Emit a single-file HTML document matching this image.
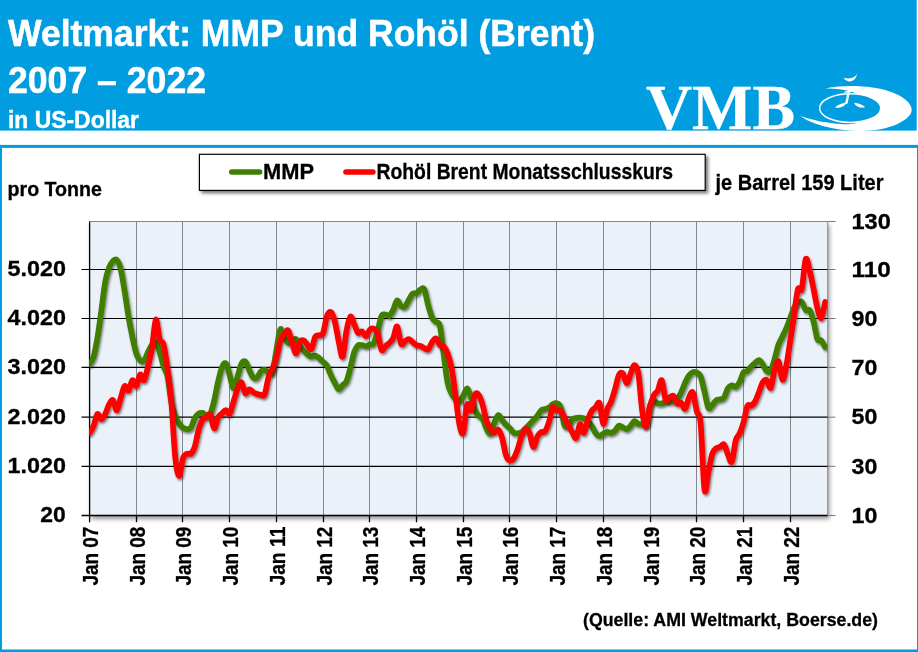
<!DOCTYPE html>
<html><head><meta charset="utf-8"><title>Weltmarkt: MMP und Rohöl (Brent)</title>
<style>html,body{margin:0;padding:0;background:#fff;width:918px;height:652px;overflow:hidden}</style></head>
<body>
<svg width="918" height="652" viewBox="0 0 918 652" style="display:block;position:absolute;left:0;top:0;will-change:transform">
<defs>
<filter id="ls" x="-5%" y="-5%" width="110%" height="115%"><feDropShadow dx="1.2" dy="1.8" stdDeviation="1.3" flood-color="#000" flood-opacity="0.5"/></filter>
<filter id="ps" x="-5%" y="-5%" width="112%" height="112%"><feDropShadow dx="1.7" dy="3.4" stdDeviation="2.2" flood-color="#000" flood-opacity="0.42"/></filter>
<filter id="lg" x="-5%" y="-20%" width="112%" height="150%"><feDropShadow dx="2.5" dy="2.5" stdDeviation="1.8" flood-color="#000" flood-opacity="0.5"/></filter>
<linearGradient id="pg" x1="0" y1="0" x2="1" y2="1"><stop offset="0" stop-color="#ebf2fa"/><stop offset="1" stop-color="#e6eef8"/></linearGradient>
<clipPath id="pc"><rect x="89.1" y="221.5" width="738.6" height="294.0"/></clipPath>
</defs>
<rect width="918" height="652" fill="#fff"/>
<rect x="0" y="0" width="916.7" height="130.6" fill="#009ee0"/>
<rect x="0.5" y="146.4" width="918" height="504.6" fill="none" stroke="#009ee0" stroke-width="3"/>
<text id="t1" x="8" y="45.9" font-family="Liberation Sans, sans-serif" font-weight="bold" font-size="36" fill="#fff" stroke="#fff" stroke-width="0.5" textLength="587" lengthAdjust="spacingAndGlyphs">Weltmarkt: MMP und Rohöl (Brent)</text>
<text id="t2" x="8" y="92.6" font-family="Liberation Sans, sans-serif" font-weight="bold" font-size="36" fill="#fff" stroke="#fff" stroke-width="0.5" textLength="198" lengthAdjust="spacingAndGlyphs">2007 – 2022</text>
<text id="t3" x="8" y="128.4" font-family="Liberation Sans, sans-serif" font-weight="bold" font-size="23.8" fill="#fff" stroke="#fff" stroke-width="0.4" textLength="131" lengthAdjust="spacingAndGlyphs">in US-Dollar</text>
<text id="vmb" x="646" y="128.9" font-family="Liberation Serif, serif" font-weight="bold" font-size="63.8" fill="#fff" stroke="#fff" stroke-width="0.3" textLength="149" lengthAdjust="spacingAndGlyphs">VMB</text>
<g transform="translate(795,65) scale(0.134)" fill="#fff">
<path d="M38 378C120 440 280 485 470 492C640 497 800 450 860 370C900 310 830 235 700 195C600 162 400 140 225 176C300 176 390 184 470 218L480 330L450 436C400 446 320 444 230 428C150 412 90 398 38 378Z"/>
<ellipse cx="412" cy="322" rx="228" ry="107" fill="#009ee0" stroke="#fff" stroke-width="11"/>
<path d="M402 188C398 220 392 250 384 282" fill="none" stroke="#fff" stroke-width="18" stroke-linecap="round"/>
<path d="M372 203L418 196" fill="none" stroke="#fff" stroke-width="10" stroke-linecap="round"/>
<path d="M386 278C360 284 318 294 298 318C332 324 372 312 386 278Z"/>
<path d="M440 281C470 283 506 294 524 316C490 323 454 311 440 281Z"/>
<path d="M364 96C376 135 458 137 462 62C454 95 412 109 364 96Z"/>
</g>

<rect x="89.6" y="221.5" width="738.1" height="294.0" fill="#eaf1f9" filter="url(#ps)"/>
<line x1="136.5" y1="221.5" x2="136.5" y2="515.5" stroke="#84888e" stroke-width="1"/>
<line x1="182.5" y1="221.5" x2="182.5" y2="515.5" stroke="#84888e" stroke-width="1"/>
<line x1="229.5" y1="221.5" x2="229.5" y2="515.5" stroke="#84888e" stroke-width="1"/>
<line x1="276.5" y1="221.5" x2="276.5" y2="515.5" stroke="#84888e" stroke-width="1"/>
<line x1="323.5" y1="221.5" x2="323.5" y2="515.5" stroke="#84888e" stroke-width="1"/>
<line x1="369.5" y1="221.5" x2="369.5" y2="515.5" stroke="#84888e" stroke-width="1"/>
<line x1="416.5" y1="221.5" x2="416.5" y2="515.5" stroke="#84888e" stroke-width="1"/>
<line x1="463.5" y1="221.5" x2="463.5" y2="515.5" stroke="#84888e" stroke-width="1"/>
<line x1="509.5" y1="221.5" x2="509.5" y2="515.5" stroke="#84888e" stroke-width="1"/>
<line x1="556.5" y1="221.5" x2="556.5" y2="515.5" stroke="#84888e" stroke-width="1"/>
<line x1="603.5" y1="221.5" x2="603.5" y2="515.5" stroke="#84888e" stroke-width="1"/>
<line x1="650.5" y1="221.5" x2="650.5" y2="515.5" stroke="#84888e" stroke-width="1"/>
<line x1="696.5" y1="221.5" x2="696.5" y2="515.5" stroke="#84888e" stroke-width="1"/>
<line x1="743.5" y1="221.5" x2="743.5" y2="515.5" stroke="#84888e" stroke-width="1"/>
<line x1="790.5" y1="221.5" x2="790.5" y2="515.5" stroke="#84888e" stroke-width="1"/>
<path d="M89.6 221.5 H827.7 V515.5" fill="none" stroke="#84888e" stroke-width="1"/>
<line x1="81.5" y1="269.5" x2="827.7" y2="269.5" stroke="#000" stroke-width="1.2"/>
<line x1="827.7" y1="269.5" x2="835.5" y2="269.5" stroke="#7a7a7a" stroke-width="1"/>
<line x1="81.5" y1="318.5" x2="827.7" y2="318.5" stroke="#000" stroke-width="1.2"/>
<line x1="827.7" y1="318.5" x2="835.5" y2="318.5" stroke="#7a7a7a" stroke-width="1"/>
<line x1="81.5" y1="367.4" x2="827.7" y2="367.4" stroke="#000" stroke-width="1.2"/>
<line x1="827.7" y1="367.4" x2="835.5" y2="367.4" stroke="#7a7a7a" stroke-width="1"/>
<line x1="81.5" y1="417.2" x2="827.7" y2="417.2" stroke="#000" stroke-width="1.2"/>
<line x1="827.7" y1="417.2" x2="835.5" y2="417.2" stroke="#7a7a7a" stroke-width="1"/>
<line x1="81.5" y1="466.3" x2="827.7" y2="466.3" stroke="#000" stroke-width="1.2"/>
<line x1="827.7" y1="466.3" x2="835.5" y2="466.3" stroke="#7a7a7a" stroke-width="1"/>
<line x1="827.7" y1="221.5" x2="835.5" y2="221.5" stroke="#7a7a7a" stroke-width="1"/>
<line x1="89.6" y1="221.5" x2="89.6" y2="522.2" stroke="#000" stroke-width="1.3"/>
<line x1="81.5" y1="515.5" x2="827.7" y2="515.5" stroke="#000" stroke-width="1.4"/>
<line x1="827.7" y1="515.5" x2="835.5" y2="515.5" stroke="#7a7a7a" stroke-width="1"/>
<line x1="136.5" y1="515.5" x2="136.5" y2="522.2" stroke="#000" stroke-width="1.3"/>
<line x1="182.5" y1="515.5" x2="182.5" y2="522.2" stroke="#000" stroke-width="1.3"/>
<line x1="229.5" y1="515.5" x2="229.5" y2="522.2" stroke="#000" stroke-width="1.3"/>
<line x1="276.5" y1="515.5" x2="276.5" y2="522.2" stroke="#000" stroke-width="1.3"/>
<line x1="323.5" y1="515.5" x2="323.5" y2="522.2" stroke="#000" stroke-width="1.3"/>
<line x1="369.5" y1="515.5" x2="369.5" y2="522.2" stroke="#000" stroke-width="1.3"/>
<line x1="416.5" y1="515.5" x2="416.5" y2="522.2" stroke="#000" stroke-width="1.3"/>
<line x1="463.5" y1="515.5" x2="463.5" y2="522.2" stroke="#000" stroke-width="1.3"/>
<line x1="509.5" y1="515.5" x2="509.5" y2="522.2" stroke="#000" stroke-width="1.3"/>
<line x1="556.5" y1="515.5" x2="556.5" y2="522.2" stroke="#000" stroke-width="1.3"/>
<line x1="603.5" y1="515.5" x2="603.5" y2="522.2" stroke="#000" stroke-width="1.3"/>
<line x1="650.5" y1="515.5" x2="650.5" y2="522.2" stroke="#000" stroke-width="1.3"/>
<line x1="696.5" y1="515.5" x2="696.5" y2="522.2" stroke="#000" stroke-width="1.3"/>
<line x1="743.5" y1="515.5" x2="743.5" y2="522.2" stroke="#000" stroke-width="1.3"/>
<line x1="790.5" y1="515.5" x2="790.5" y2="522.2" stroke="#000" stroke-width="1.3"/>
<g clip-path="url(#pc)"><g filter="url(#ls)">
<path d="M89.6 364.0C90.2 362.8 92.2 361.3 93.5 357.0C94.8 352.7 96.1 345.7 97.4 338.0C98.7 330.3 100.0 320.3 101.3 311.0C102.6 301.7 103.9 289.2 105.2 282.0C106.5 274.8 107.8 271.0 109.1 267.5C110.4 264.0 111.7 262.2 113.0 261.0C114.2 259.8 115.5 258.7 116.8 260.0C118.1 261.3 119.4 263.8 120.7 269.0C122.0 274.2 123.3 283.1 124.6 291.0C125.9 298.9 127.2 308.8 128.5 316.5C129.8 324.2 131.1 330.8 132.4 337.0C133.7 343.2 135.0 349.6 136.3 353.5C137.6 357.4 138.9 359.3 140.2 360.5C141.5 361.7 142.8 361.9 144.1 360.5C145.4 359.1 146.7 354.6 148.0 352.0C149.3 349.4 150.6 346.7 151.9 345.0C153.2 343.3 154.5 340.8 155.8 342.0C157.1 343.2 158.4 348.0 159.7 352.0C161.0 356.0 162.3 362.0 163.5 366.0C164.8 370.0 166.1 370.0 167.4 376.0C168.7 382.0 170.0 395.3 171.3 402.0C172.6 408.7 173.9 412.4 175.2 416.0C176.5 419.6 177.8 421.5 179.1 423.5C180.4 425.5 181.7 427.0 183.0 427.9C184.3 428.8 185.6 429.1 186.9 429.1C188.2 429.1 189.5 429.7 190.8 427.9C192.1 426.1 193.4 420.8 194.7 418.4C196.0 416.0 197.3 414.4 198.6 413.5C199.9 412.6 201.2 412.6 202.5 412.9C203.8 413.2 205.1 415.1 206.4 415.3C207.7 415.5 209.0 416.4 210.3 414.0C211.5 411.6 212.8 406.3 214.1 401.0C215.4 395.7 216.7 387.6 218.0 382.0C219.3 376.4 220.6 370.6 221.9 367.5C223.2 364.4 224.5 362.2 225.8 363.5C227.1 364.8 228.4 371.2 229.7 375.3C231.0 379.4 232.3 388.1 233.6 388.3C234.9 388.6 236.2 380.9 237.5 376.8C238.8 372.7 240.1 366.4 241.4 363.8C242.7 361.2 244.0 360.5 245.3 361.5C246.6 362.5 247.9 367.2 249.2 369.9C250.5 372.6 251.8 376.3 253.1 377.6C254.4 378.9 255.7 378.6 257.0 377.6C258.3 376.6 259.6 372.7 260.8 371.4C262.1 370.1 263.4 369.8 264.7 369.9C266.0 370.0 267.3 371.8 268.6 372.2C269.9 372.6 271.2 375.7 272.5 372.0C273.8 368.3 275.1 357.1 276.4 350.0C277.7 342.9 279.0 331.6 280.3 329.4C281.6 327.2 282.9 334.4 284.2 336.7C285.5 338.9 286.8 342.1 288.1 342.9C289.4 343.7 290.7 341.9 292.0 341.3C293.3 340.7 294.6 338.2 295.9 339.0C297.2 339.8 298.5 344.1 299.8 346.0C301.1 347.9 302.4 349.2 303.7 350.6C305.0 352.0 306.3 353.4 307.6 354.4C308.8 355.4 310.1 356.5 311.4 356.7C312.7 356.9 314.0 355.2 315.3 355.5C316.6 355.8 317.9 357.1 319.2 358.2C320.5 359.3 321.8 360.7 323.1 362.0C324.4 363.3 325.7 363.7 327.0 365.9C328.3 368.1 329.6 372.3 330.9 375.1C332.2 377.9 333.5 380.5 334.8 382.9C336.1 385.3 337.4 389.0 338.7 389.4C340.0 389.8 341.3 386.6 342.6 385.2C343.9 383.8 345.2 384.0 346.5 381.1C347.8 378.2 349.1 372.5 350.4 367.6C351.7 362.7 353.0 355.5 354.3 351.8C355.6 348.1 356.9 346.4 358.1 345.3C359.4 344.2 360.7 345.1 362.0 345.2C363.3 345.3 364.6 346.3 365.9 346.2C367.2 346.1 368.5 344.9 369.8 344.4C371.1 343.9 372.4 345.5 373.7 343.3C375.0 341.1 376.3 335.9 377.6 331.3C378.9 326.8 380.2 318.8 381.5 316.0C382.8 313.2 384.1 314.6 385.4 314.5C386.7 314.4 388.0 316.5 389.3 315.7C390.6 314.9 391.9 312.4 393.2 309.9C394.5 307.3 395.8 301.0 397.1 300.4C398.4 299.8 399.7 305.0 401.0 306.0C402.3 307.0 403.6 307.5 404.9 306.5C406.1 305.5 407.4 302.0 408.7 299.9C410.0 297.8 411.3 294.9 412.6 293.8C413.9 292.7 415.2 294.0 416.5 293.3C417.8 292.6 419.1 290.3 420.4 289.6C421.7 288.9 423.0 286.6 424.3 289.2C425.6 291.8 426.9 300.6 428.2 305.3C429.5 310.0 430.8 314.7 432.1 317.5C433.4 320.3 434.7 320.7 436.0 322.1C437.3 323.5 438.6 320.5 439.9 326.0C441.2 331.5 442.5 345.5 443.8 355.0C445.1 364.5 446.4 376.6 447.7 383.0C449.0 389.4 450.3 391.0 451.6 393.7C452.9 396.4 454.2 397.8 455.4 399.1C456.7 400.4 458.0 401.9 459.3 401.4C460.6 400.9 461.9 398.2 463.2 396.0C464.5 393.8 465.8 388.1 467.1 388.3C468.4 388.6 469.7 393.9 471.0 397.5C472.3 401.1 473.6 406.7 474.9 409.8C476.2 412.9 477.5 414.5 478.8 416.0C480.1 417.5 481.4 416.8 482.7 419.0C484.0 421.2 485.3 426.6 486.6 429.0C487.9 431.4 489.2 434.7 490.5 433.6C491.8 432.5 493.1 425.6 494.4 422.5C495.7 419.4 497.0 415.4 498.3 415.0C499.6 414.6 500.9 418.6 502.2 420.2C503.4 421.8 504.7 423.4 506.0 424.8C507.3 426.2 508.6 427.0 509.9 428.3C511.2 429.6 512.5 432.0 513.8 432.9C515.1 433.8 516.4 433.5 517.7 433.4C519.0 433.3 520.3 433.0 521.6 432.1C522.9 431.2 524.2 429.6 525.5 428.3C526.8 427.0 528.1 425.9 529.4 424.5C530.7 423.1 532.0 421.6 533.3 420.2C534.6 418.8 535.9 417.6 537.2 416.0C538.5 414.4 539.8 411.5 541.1 410.4C542.4 409.2 543.7 409.6 545.0 409.1C546.3 408.6 547.6 408.4 548.9 407.6C550.2 406.8 551.5 404.9 552.7 404.2C554.0 403.5 555.3 402.9 556.6 403.3C557.9 403.7 559.2 403.2 560.5 406.8C561.8 410.4 563.1 422.0 564.4 425.2C565.7 428.4 567.0 426.9 568.3 426.0C569.6 425.1 570.9 420.9 572.2 419.6C573.5 418.3 574.8 418.3 576.1 418.0C577.4 417.7 578.7 417.6 580.0 417.7C581.3 417.8 582.6 417.7 583.9 418.3C585.2 418.9 586.5 419.8 587.8 421.1C589.1 422.4 590.4 424.0 591.7 426.0C593.0 428.0 594.3 431.2 595.6 432.9C596.9 434.6 598.2 435.9 599.5 436.0C600.7 436.1 602.0 434.4 603.3 433.7C604.6 433.0 605.9 431.9 607.2 431.8C608.5 431.7 609.8 433.1 611.1 432.9C612.4 432.7 613.7 431.8 615.0 430.6C616.3 429.4 617.6 426.2 618.9 425.7C620.2 425.2 621.5 426.9 622.8 427.5C624.1 428.1 625.4 429.4 626.7 429.1C628.0 428.8 629.3 427.2 630.6 425.9C631.9 424.5 633.2 421.3 634.5 421.0C635.8 420.7 637.1 423.7 638.4 424.2C639.7 424.7 641.0 423.9 642.3 424.0C643.6 424.1 644.9 428.0 646.2 425.0C647.5 422.0 648.8 410.0 650.0 406.0C651.3 402.0 652.6 401.4 653.9 401.0C655.2 400.6 656.5 403.0 657.8 403.4C659.1 403.8 660.4 403.8 661.7 403.5C663.0 403.2 664.3 402.1 665.6 401.8C666.9 401.5 668.2 401.9 669.5 401.8C670.8 401.7 672.1 401.9 673.4 401.4C674.7 400.9 676.0 400.5 677.3 399.0C678.6 397.5 679.9 394.9 681.2 392.2C682.5 389.5 683.8 385.6 685.1 382.8C686.4 380.0 687.7 377.3 689.0 375.5C690.3 373.7 691.6 372.7 692.9 372.2C694.2 371.7 695.5 371.8 696.8 372.5C698.0 373.2 699.3 373.2 700.6 376.4C701.9 379.6 703.2 386.4 704.5 391.6C705.8 396.8 707.1 405.6 708.4 407.8C709.7 410.0 711.0 406.1 712.3 404.9C713.6 403.6 714.9 401.2 716.2 400.3C717.5 399.4 718.8 399.9 720.1 399.4C721.4 398.9 722.7 399.4 724.0 397.5C725.3 395.6 726.6 390.3 727.9 388.3C729.2 386.3 730.5 385.6 731.8 385.3C733.1 385.1 734.4 387.4 735.7 386.8C737.0 386.2 738.3 384.4 739.6 382.0C740.9 379.6 742.2 374.2 743.5 372.4C744.8 370.6 746.1 372.0 747.3 371.0C748.6 370.0 749.9 367.9 751.2 366.6C752.5 365.3 753.8 364.1 755.1 363.0C756.4 361.9 757.7 359.7 759.0 360.0C760.3 360.3 761.6 362.7 762.9 364.6C764.2 366.5 765.5 370.3 766.8 371.3C768.1 372.3 769.4 372.6 770.7 370.5C772.0 368.4 773.3 363.3 774.6 359.0C775.9 354.7 777.2 348.2 778.5 344.5C779.8 340.8 781.1 339.2 782.4 336.5C783.7 333.8 785.0 331.5 786.3 328.4C787.6 325.3 788.9 321.5 790.2 318.0C791.5 314.5 792.8 310.1 794.1 307.5C795.3 304.9 796.6 303.4 797.9 302.5C799.2 301.6 800.5 300.8 801.8 302.0C803.1 303.2 804.4 308.6 805.7 310.0C807.0 311.4 808.3 308.3 809.6 310.2C810.9 312.1 812.2 316.4 813.5 321.2C814.8 326.0 816.1 335.8 817.4 339.0C818.7 342.2 820.0 339.2 821.3 340.6C822.6 342.0 824.5 346.1 825.2 347.2" fill="none" stroke="#3f7e05" stroke-width="5.7" stroke-linejoin="round" stroke-linecap="round"/>
</g><g filter="url(#ls)">
<path d="M89.6 433.0C90.2 431.8 92.2 429.2 93.5 426.0C94.8 422.8 96.1 415.1 97.4 414.0C98.7 412.9 100.0 419.3 101.3 419.3C102.6 419.3 103.9 416.5 105.2 414.0C106.5 411.5 107.8 406.7 109.1 404.4C110.4 402.1 111.7 399.3 113.0 400.3C114.2 401.3 115.5 410.6 116.8 410.2C118.1 409.8 119.4 402.0 120.7 398.0C122.0 394.0 123.3 387.2 124.6 386.0C125.9 384.8 127.2 391.6 128.5 390.6C129.8 389.7 131.1 381.1 132.4 380.3C133.7 379.5 135.0 387.0 136.3 386.0C137.6 385.0 138.9 375.5 140.2 374.5C141.5 373.5 142.8 381.6 144.1 380.2C145.4 378.8 146.7 371.7 148.0 366.4C149.3 361.1 150.6 356.2 151.9 348.4C153.2 340.6 154.5 321.2 155.8 319.7C157.1 318.2 158.4 335.4 159.7 339.5C161.0 343.6 162.3 339.8 163.5 344.5C164.8 349.2 166.1 358.1 167.4 367.6C168.7 377.1 170.0 386.5 171.3 401.3C172.6 416.1 173.9 444.3 175.2 456.7C176.5 469.1 177.8 475.6 179.1 475.9C180.4 476.2 181.7 462.0 183.0 458.3C184.3 454.6 185.6 454.5 186.9 453.7C188.2 452.9 189.5 454.8 190.8 453.7C192.1 452.6 193.4 450.8 194.7 446.8C196.0 442.8 197.3 434.4 198.6 429.9C199.9 425.4 201.2 422.0 202.5 419.9C203.8 417.8 205.1 418.1 206.4 417.2C207.7 416.3 209.0 412.7 210.3 414.6C211.5 416.5 212.8 427.9 214.1 428.4C215.4 428.9 216.7 420.1 218.0 417.6C219.3 415.1 220.6 414.7 221.9 413.5C223.2 412.3 224.5 410.2 225.8 410.2C227.1 410.2 228.4 415.1 229.7 413.6C231.0 412.1 232.3 405.4 233.6 401.3C234.9 397.2 236.2 392.2 237.5 389.0C238.8 385.8 240.1 381.5 241.4 382.2C242.7 382.9 244.0 392.1 245.3 393.3C246.6 394.5 247.9 389.6 249.2 389.4C250.5 389.2 251.8 391.3 253.1 392.1C254.4 392.9 255.7 393.5 257.0 394.0C258.3 394.5 259.6 394.8 260.8 394.9C262.1 395.0 263.4 397.4 264.7 394.4C266.0 391.4 267.3 381.0 268.6 376.7C269.9 372.4 271.2 371.5 272.5 368.3C273.8 365.1 275.1 362.1 276.4 357.5C277.7 352.9 279.0 344.4 280.3 340.5C281.6 336.6 282.9 336.0 284.2 334.4C285.5 332.8 286.8 329.3 288.1 330.6C289.4 331.9 290.7 338.3 292.0 342.1C293.3 345.9 294.6 353.3 295.9 353.3C297.2 353.3 298.5 344.3 299.8 342.1C301.1 339.9 302.4 339.8 303.7 340.3C305.0 340.8 306.3 343.8 307.6 345.2C308.8 346.6 310.1 350.4 311.4 349.0C312.7 347.6 314.0 339.0 315.3 336.7C316.6 334.4 317.9 335.8 319.2 335.2C320.5 334.6 321.8 336.1 323.1 332.9C324.4 329.7 325.7 319.4 327.0 316.0C328.3 312.6 329.6 311.3 330.9 312.2C332.2 313.1 333.5 316.5 334.8 321.4C336.1 326.2 337.4 335.4 338.7 341.3C340.0 347.2 341.3 358.5 342.6 356.7C343.9 354.9 345.2 337.3 346.5 330.6C347.8 323.9 349.1 317.5 350.4 316.5C351.7 315.5 353.0 321.8 354.3 324.5C355.6 327.2 356.9 331.8 358.1 332.9C359.4 334.0 360.7 330.7 362.0 331.3C363.3 331.9 364.6 336.6 365.9 336.3C367.2 336.1 368.5 331.1 369.8 329.8C371.1 328.5 372.4 328.2 373.7 328.7C375.0 329.2 376.3 329.4 377.6 332.9C378.9 336.4 380.2 347.6 381.5 349.8C382.8 352.1 384.1 347.5 385.4 346.4C386.7 345.2 388.0 344.2 389.3 342.9C390.6 341.5 391.9 341.1 393.2 338.3C394.5 335.6 395.8 325.5 397.1 326.4C398.4 327.3 399.7 341.1 401.0 343.6C402.3 346.1 403.6 342.1 404.9 341.3C406.1 340.5 407.4 338.9 408.7 339.0C410.0 339.1 411.3 341.1 412.6 342.1C413.9 343.1 415.2 344.6 416.5 345.2C417.8 345.8 419.1 345.4 420.4 345.9C421.7 346.4 423.0 347.6 424.3 348.2C425.6 348.8 426.9 350.3 428.2 349.3C429.5 348.3 430.8 343.9 432.1 342.1C433.4 340.3 434.7 337.8 436.0 338.3C437.3 338.8 438.6 343.8 439.9 345.2C441.2 346.6 442.5 345.3 443.8 346.7C445.1 348.1 446.4 350.1 447.7 353.7C449.0 357.3 450.3 361.5 451.6 368.3C452.9 375.1 454.2 385.3 455.4 394.5C456.7 403.7 458.0 417.2 459.3 423.6C460.6 430.0 461.9 436.0 463.2 432.8C464.5 429.6 465.8 408.2 467.1 404.5C468.4 400.8 469.7 412.2 471.0 410.5C472.3 408.8 473.6 397.1 474.9 394.5C476.2 391.9 477.5 393.4 478.8 395.2C480.1 397.0 481.4 400.8 482.7 405.2C484.0 409.6 485.3 417.4 486.6 421.3C487.9 425.2 489.2 426.6 490.5 428.5C491.8 430.4 493.1 432.3 494.4 432.5C495.7 432.7 497.0 428.8 498.3 429.8C499.6 430.8 500.9 434.1 502.2 438.3C503.4 442.5 504.7 451.5 506.0 455.2C507.3 458.9 508.6 460.0 509.9 460.5C511.2 461.0 512.5 460.1 513.8 458.2C515.1 456.3 516.4 452.7 517.7 449.0C519.0 445.3 520.3 439.3 521.6 436.0C522.9 432.7 524.2 429.6 525.5 429.1C526.8 428.6 528.1 429.9 529.4 432.9C530.7 435.9 532.0 446.4 533.3 447.0C534.6 447.6 535.9 439.2 537.2 436.7C538.5 434.2 539.8 433.0 541.1 432.1C542.4 431.2 543.7 433.0 545.0 431.4C546.3 429.8 547.6 426.2 548.9 422.2C550.2 418.2 551.5 409.2 552.7 407.3C554.0 405.4 555.3 410.1 556.6 410.7C557.9 411.3 559.2 409.5 560.5 410.7C561.8 411.9 563.1 415.2 564.4 417.6C565.7 420.0 567.0 422.8 568.3 425.2C569.6 427.6 570.9 430.0 572.2 432.1C573.5 434.2 574.8 439.3 576.1 438.0C577.4 436.7 578.7 425.1 580.0 424.2C581.3 423.3 582.6 433.6 583.9 432.9C585.2 432.2 586.5 423.6 587.8 419.9C589.1 416.2 590.4 412.8 591.7 410.7C593.0 408.6 594.3 408.5 595.6 407.3C596.9 406.1 598.2 400.5 599.5 403.3C600.7 406.1 602.0 423.0 603.3 424.0C604.6 425.0 605.9 412.9 607.2 409.1C608.5 405.4 609.8 404.8 611.1 401.5C612.4 398.2 613.7 393.6 615.0 389.2C616.3 384.8 617.6 377.6 618.9 375.0C620.2 372.4 621.5 372.1 622.8 373.5C624.1 374.9 625.4 383.3 626.7 383.4C628.0 383.5 629.3 377.1 630.6 374.0C631.9 370.9 633.2 365.0 634.5 365.0C635.8 365.0 637.1 366.2 638.4 374.0C639.7 381.8 641.0 402.8 642.3 411.5C643.6 420.2 644.9 427.3 646.2 426.4C647.5 425.5 648.8 411.2 650.0 406.0C651.3 400.8 652.6 397.8 653.9 395.2C655.2 392.6 656.5 393.1 657.8 390.6C659.1 388.1 660.4 378.7 661.7 380.2C663.0 381.7 664.3 396.9 665.6 399.8C666.9 402.7 668.2 398.2 669.5 397.5C670.8 396.8 672.1 394.8 673.4 395.8C674.7 396.8 676.0 402.5 677.3 403.7C678.6 404.9 679.9 402.0 681.2 402.9C682.5 403.8 683.8 409.7 685.1 408.8C686.4 407.9 687.7 400.2 689.0 397.5C690.3 394.8 691.6 390.3 692.9 392.6C694.2 394.9 695.5 406.2 696.8 411.3C698.0 416.4 699.3 409.9 700.6 423.0C701.9 436.1 703.2 481.6 704.5 489.8C705.8 498.0 707.1 478.1 708.4 472.1C709.7 466.1 711.0 457.7 712.3 453.7C713.6 449.7 714.9 449.4 716.2 448.3C717.5 447.2 718.8 447.4 720.1 446.8C721.4 446.2 722.7 443.2 724.0 444.5C725.3 445.8 726.6 451.5 727.9 454.4C729.2 457.3 730.5 464.0 731.8 461.7C733.1 459.4 734.4 445.2 735.7 440.5C737.0 435.8 738.3 436.5 739.6 433.5C740.9 430.5 742.2 427.1 743.5 422.5C744.8 417.9 746.1 408.8 747.3 406.0C748.6 403.2 749.9 406.4 751.2 405.7C752.5 404.9 753.8 403.8 755.1 401.5C756.4 399.2 757.7 395.2 759.0 392.0C760.3 388.8 761.6 384.0 762.9 382.0C764.2 380.0 765.5 379.2 766.8 380.1C768.1 381.1 769.4 389.4 770.7 387.7C772.0 386.0 773.3 374.2 774.6 369.8C775.9 365.4 777.2 359.6 778.5 361.3C779.8 363.0 781.1 379.0 782.4 379.8C783.7 380.6 785.0 372.5 786.3 366.0C787.6 359.5 788.9 349.4 790.2 341.0C791.5 332.6 792.8 324.1 794.1 315.5C795.3 306.9 796.6 293.9 797.9 289.4C799.2 284.9 800.5 293.7 801.8 288.7C803.1 283.7 804.4 262.3 805.7 259.2C807.0 256.1 808.3 265.4 809.6 270.3C810.9 275.2 812.2 282.4 813.5 288.7C814.8 295.0 816.1 303.1 817.4 308.0C818.7 312.9 820.0 319.0 821.3 318.0C822.6 317.0 824.5 304.7 825.2 302.0" fill="none" stroke="#ff0000" stroke-width="5.7" stroke-linejoin="round" stroke-linecap="round"/>
</g></g>
<text class="ly" x="7.5" y="275.8" font-family="Liberation Sans, sans-serif" font-weight="bold" fill="#000" stroke="#000" stroke-width="0.3" font-size="22.4" textLength="58.5" lengthAdjust="spacingAndGlyphs">5.020</text>
<text class="ly" x="7.5" y="324.8" font-family="Liberation Sans, sans-serif" font-weight="bold" fill="#000" stroke="#000" stroke-width="0.3" font-size="22.4" textLength="58.5" lengthAdjust="spacingAndGlyphs">4.020</text>
<text class="ly" x="7.5" y="373.7" font-family="Liberation Sans, sans-serif" font-weight="bold" fill="#000" stroke="#000" stroke-width="0.3" font-size="22.4" textLength="58.5" lengthAdjust="spacingAndGlyphs">3.020</text>
<text class="ly" x="7.5" y="423.5" font-family="Liberation Sans, sans-serif" font-weight="bold" fill="#000" stroke="#000" stroke-width="0.3" font-size="22.4" textLength="58.5" lengthAdjust="spacingAndGlyphs">2.020</text>
<text class="ly" x="7.5" y="472.6" font-family="Liberation Sans, sans-serif" font-weight="bold" fill="#000" stroke="#000" stroke-width="0.3" font-size="22.4" textLength="58.5" lengthAdjust="spacingAndGlyphs">1.020</text>
<text class="ly" x="40.3" y="521.8" font-family="Liberation Sans, sans-serif" font-weight="bold" fill="#000" stroke="#000" stroke-width="0.3" font-size="22.4" textLength="25.5" lengthAdjust="spacingAndGlyphs">20</text>
<text class="ry" x="851.5" y="228.7" font-family="Liberation Sans, sans-serif" font-weight="bold" fill="#000" stroke="#000" stroke-width="0.3" font-size="22.4" textLength="39.3" lengthAdjust="spacingAndGlyphs">130</text>
<text class="ry" x="851.5" y="276.7" font-family="Liberation Sans, sans-serif" font-weight="bold" fill="#000" stroke="#000" stroke-width="0.3" font-size="22.4" textLength="39.3" lengthAdjust="spacingAndGlyphs">110</text>
<text class="ry" x="851.5" y="325.7" font-family="Liberation Sans, sans-serif" font-weight="bold" fill="#000" stroke="#000" stroke-width="0.3" font-size="22.4" textLength="25.8" lengthAdjust="spacingAndGlyphs">90</text>
<text class="ry" x="851.5" y="374.6" font-family="Liberation Sans, sans-serif" font-weight="bold" fill="#000" stroke="#000" stroke-width="0.3" font-size="22.4" textLength="25.8" lengthAdjust="spacingAndGlyphs">70</text>
<text class="ry" x="851.5" y="424.4" font-family="Liberation Sans, sans-serif" font-weight="bold" fill="#000" stroke="#000" stroke-width="0.3" font-size="22.4" textLength="25.8" lengthAdjust="spacingAndGlyphs">50</text>
<text class="ry" x="851.5" y="473.5" font-family="Liberation Sans, sans-serif" font-weight="bold" fill="#000" stroke="#000" stroke-width="0.3" font-size="22.4" textLength="25.8" lengthAdjust="spacingAndGlyphs">30</text>
<text class="ry" x="851.5" y="522.7" font-family="Liberation Sans, sans-serif" font-weight="bold" fill="#000" stroke="#000" stroke-width="0.3" font-size="22.4" textLength="25.8" lengthAdjust="spacingAndGlyphs">10</text>
<text class="xl" transform="translate(98.1,585.6) rotate(-90)" font-family="Liberation Sans, sans-serif" font-weight="bold" fill="#000" stroke="#000" stroke-width="0.3" font-size="21.6" textLength="59" lengthAdjust="spacingAndGlyphs">Jan 07</text>
<text class="xl" transform="translate(145.0,585.6) rotate(-90)" font-family="Liberation Sans, sans-serif" font-weight="bold" fill="#000" stroke="#000" stroke-width="0.3" font-size="21.6" textLength="59" lengthAdjust="spacingAndGlyphs">Jan 08</text>
<text class="xl" transform="translate(191.0,585.6) rotate(-90)" font-family="Liberation Sans, sans-serif" font-weight="bold" fill="#000" stroke="#000" stroke-width="0.3" font-size="21.6" textLength="59" lengthAdjust="spacingAndGlyphs">Jan 09</text>
<text class="xl" transform="translate(238.0,585.6) rotate(-90)" font-family="Liberation Sans, sans-serif" font-weight="bold" fill="#000" stroke="#000" stroke-width="0.3" font-size="21.6" textLength="59" lengthAdjust="spacingAndGlyphs">Jan 10</text>
<text class="xl" transform="translate(285.0,585.6) rotate(-90)" font-family="Liberation Sans, sans-serif" font-weight="bold" fill="#000" stroke="#000" stroke-width="0.3" font-size="21.6" textLength="59" lengthAdjust="spacingAndGlyphs">Jan 11</text>
<text class="xl" transform="translate(332.0,585.6) rotate(-90)" font-family="Liberation Sans, sans-serif" font-weight="bold" fill="#000" stroke="#000" stroke-width="0.3" font-size="21.6" textLength="59" lengthAdjust="spacingAndGlyphs">Jan 12</text>
<text class="xl" transform="translate(378.0,585.6) rotate(-90)" font-family="Liberation Sans, sans-serif" font-weight="bold" fill="#000" stroke="#000" stroke-width="0.3" font-size="21.6" textLength="59" lengthAdjust="spacingAndGlyphs">Jan 13</text>
<text class="xl" transform="translate(425.0,585.6) rotate(-90)" font-family="Liberation Sans, sans-serif" font-weight="bold" fill="#000" stroke="#000" stroke-width="0.3" font-size="21.6" textLength="59" lengthAdjust="spacingAndGlyphs">Jan 14</text>
<text class="xl" transform="translate(472.0,585.6) rotate(-90)" font-family="Liberation Sans, sans-serif" font-weight="bold" fill="#000" stroke="#000" stroke-width="0.3" font-size="21.6" textLength="59" lengthAdjust="spacingAndGlyphs">Jan 15</text>
<text class="xl" transform="translate(518.0,585.6) rotate(-90)" font-family="Liberation Sans, sans-serif" font-weight="bold" fill="#000" stroke="#000" stroke-width="0.3" font-size="21.6" textLength="59" lengthAdjust="spacingAndGlyphs">Jan 16</text>
<text class="xl" transform="translate(565.0,585.6) rotate(-90)" font-family="Liberation Sans, sans-serif" font-weight="bold" fill="#000" stroke="#000" stroke-width="0.3" font-size="21.6" textLength="59" lengthAdjust="spacingAndGlyphs">Jan 17</text>
<text class="xl" transform="translate(612.0,585.6) rotate(-90)" font-family="Liberation Sans, sans-serif" font-weight="bold" fill="#000" stroke="#000" stroke-width="0.3" font-size="21.6" textLength="59" lengthAdjust="spacingAndGlyphs">Jan 18</text>
<text class="xl" transform="translate(659.0,585.6) rotate(-90)" font-family="Liberation Sans, sans-serif" font-weight="bold" fill="#000" stroke="#000" stroke-width="0.3" font-size="21.6" textLength="59" lengthAdjust="spacingAndGlyphs">Jan 19</text>
<text class="xl" transform="translate(705.0,585.6) rotate(-90)" font-family="Liberation Sans, sans-serif" font-weight="bold" fill="#000" stroke="#000" stroke-width="0.3" font-size="21.6" textLength="59" lengthAdjust="spacingAndGlyphs">Jan 20</text>
<text class="xl" transform="translate(752.0,585.6) rotate(-90)" font-family="Liberation Sans, sans-serif" font-weight="bold" fill="#000" stroke="#000" stroke-width="0.3" font-size="21.6" textLength="59" lengthAdjust="spacingAndGlyphs">Jan 21</text>
<text class="xl" transform="translate(799.0,585.6) rotate(-90)" font-family="Liberation Sans, sans-serif" font-weight="bold" fill="#000" stroke="#000" stroke-width="0.3" font-size="21.6" textLength="59" lengthAdjust="spacingAndGlyphs">Jan 22</text>
<text id="pt" x="7.5" y="195.5" font-family="Liberation Sans, sans-serif" font-weight="bold" fill="#000" stroke="#000" stroke-width="0.3" font-size="20.5" textLength="94.5" lengthAdjust="spacingAndGlyphs">pro Tonne</text>
<text id="jb" x="715.5" y="190.4" font-family="Liberation Sans, sans-serif" font-weight="bold" fill="#000" stroke="#000" stroke-width="0.3" font-size="21.5" textLength="168" lengthAdjust="spacingAndGlyphs">je Barrel 159 Liter</text>
<rect x="199.4" y="154.3" width="505.8" height="36.1" fill="#fff" stroke="#000" stroke-width="1.2" filter="url(#lg)"/>
<line x1="231.8" y1="172" x2="259.6" y2="172" stroke="#3f7e05" stroke-width="5.6" stroke-linecap="round"/>
<line x1="346" y1="172" x2="372.9" y2="172" stroke="#ff0000" stroke-width="5.6" stroke-linecap="round"/>
<text id="l1" x="263" y="178.9" font-family="Liberation Sans, sans-serif" font-weight="bold" fill="#000" stroke="#000" stroke-width="0.3" font-size="21.7" textLength="51" lengthAdjust="spacingAndGlyphs">MMP</text>
<text id="l2" x="376.5" y="178.9" font-family="Liberation Sans, sans-serif" font-weight="bold" fill="#000" stroke="#000" stroke-width="0.3" font-size="21.7" textLength="296.5" lengthAdjust="spacingAndGlyphs">Rohöl Brent Monatsschlusskurs</text>
<text id="src" x="583" y="625.9" font-family="Liberation Sans, sans-serif" font-weight="bold" fill="#000" stroke="#000" stroke-width="0.3" font-size="18.3" textLength="295" lengthAdjust="spacingAndGlyphs">(Quelle: AMI Weltmarkt, Boerse.de)</text>
</svg>
</body></html>
